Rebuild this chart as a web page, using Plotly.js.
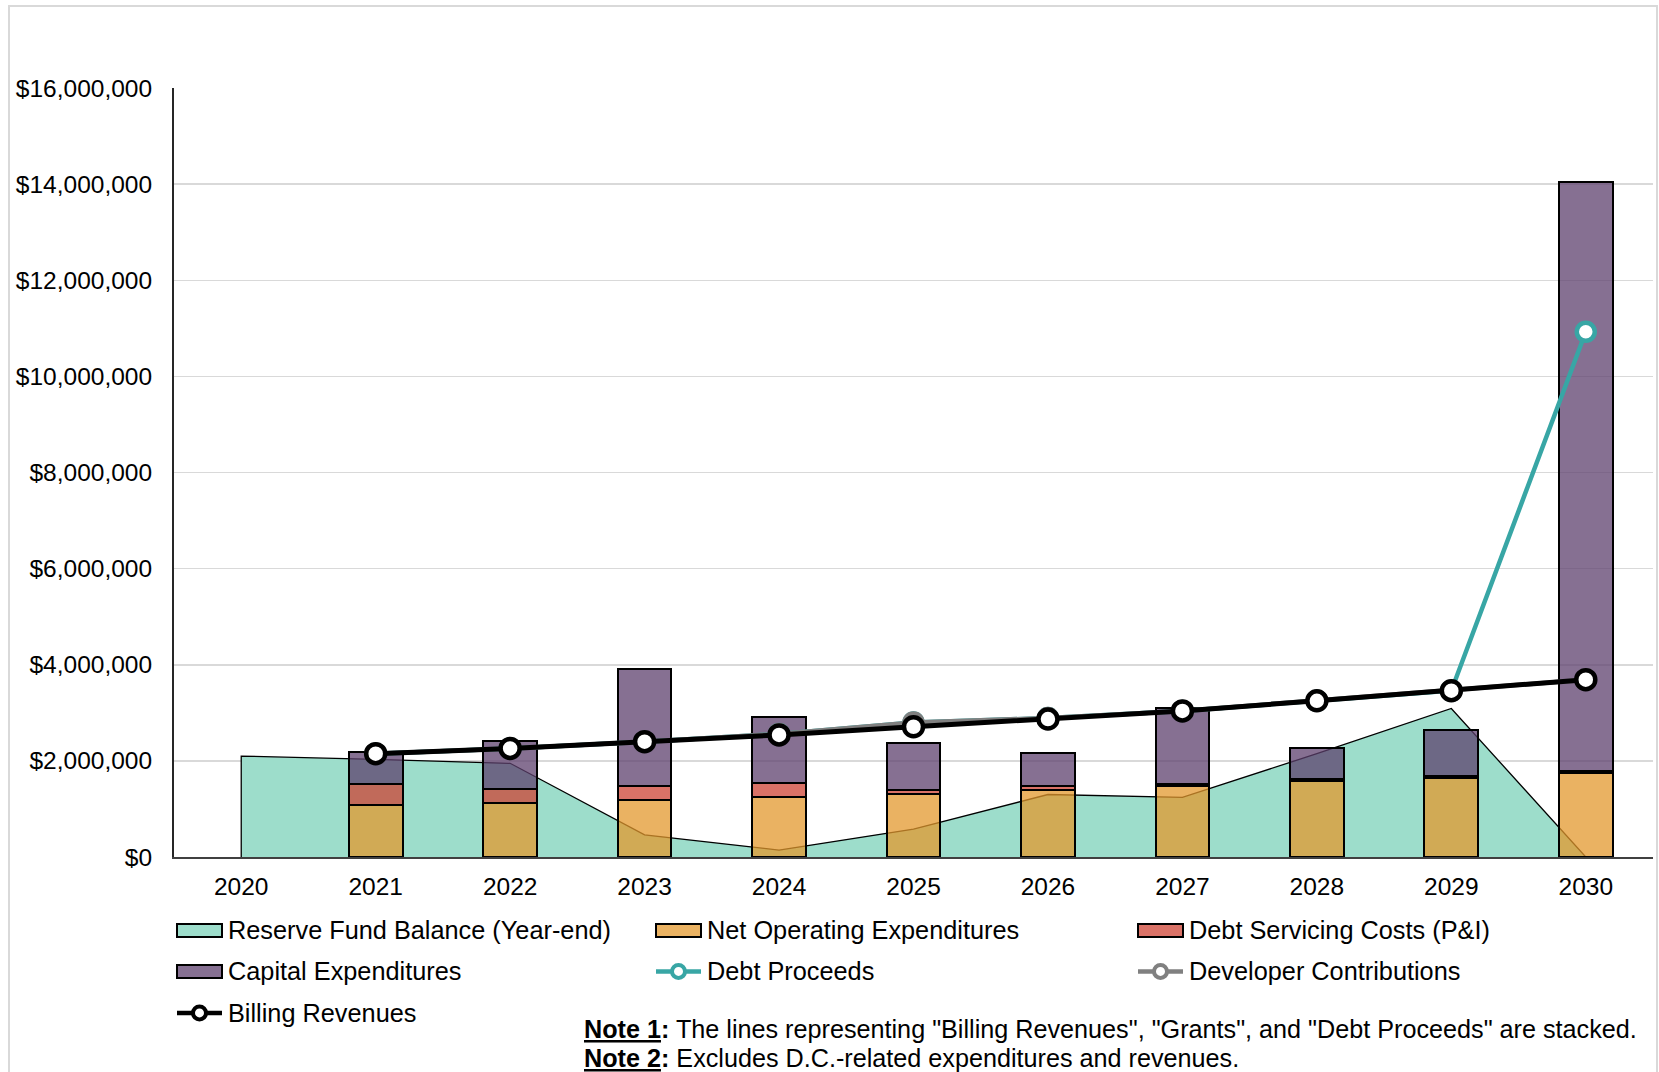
<!DOCTYPE html>
<html><head><meta charset="utf-8">
<script src="https://cdn.plot.ly/plotly-3.0.1.min.js"></script>
<style>
html,body{margin:0;padding:0;background:#fff;overflow:hidden}
#chart{width:1659px;height:1072px}
#frame{position:absolute;left:8px;top:5px;width:1650px;height:1090px;border:2px solid #d9d9d9;box-sizing:border-box;pointer-events:none}
</style></head><body>
<div id="chart"></div><div id="frame"></div>
<script>
// ---- data ----
const years = ['2020','2021','2022','2023','2024','2025','2026','2027','2028','2029','2030'];
const barYears = ['2021','2022','2023','2024','2025','2026','2027','2028','2029','2030'];
const reserveFund = [2100000, 2030000, 1950000, 460000, 145000, 580000, 1300000, 1240000, 2150000, 3090000, 0];
const netOperating = [1080000, 1120000, 1180000, 1250000, 1320000, 1400000, 1470000, 1580000, 1640000, 1740000];
const debtServicing = [430000, 300000, 300000, 280000, 70000, 70000, 40000, 40000, 50000, 40000];
const capitalExp = [680000, 1000000, 2430000, 1390000, 980000, 690000, 1600000, 640000, 950000, 12260000];
const billingRevenues = [2150000, 2260000, 2400000, 2540000, 2710000, 2870000, 3040000, 3250000, 3460000, 3690000];
const developerContrib = [0, 0, 0, 20000, 90000, 20000, 0, 0, 0, 0];
const debtProceeds = [0, 0, 0, 0, 0, 0, 0, 0, 0, 7240000];
const yTickVals = [0, 2000000, 4000000, 6000000, 8000000, 10000000, 12000000, 14000000, 16000000];
const yTickText = yTickVals.map(v => '$' + v.toLocaleString('en-US'));

// stacked lines (Billing -> + Developer -> + Debt)
const devLine = billingRevenues.map((v, i) => v + developerContrib[i]);
const debtLine = devLine.map((v, i) => v + debtProceeds[i]);

// closed outline for the reserve-fund area (baseline at both ends)
const areaX = [years[0]].concat(years, [years[years.length - 1]]);
const areaY = [0].concat(reserveFund, [0]);

const FONT = 'Liberation Sans, Arial, sans-serif';
const W = 1659, H = 1072, ML = 174, MR = 6, MT = 88, MB = 214.5;
const PW = W - ML - MR, PH = H - MT - MB;
const px2x = p => (p - ML) / PW;
const px2y = p => (H - MB - p) / PH;

const C_TEAL = 'rgb(157,221,203)';
const C_DEBT = 'rgb(56,166,165)';
const C_DEV = 'rgb(128,128,128)';

const traces = [
  {type:'scatter', x: areaX, y: areaY, name:'Reserve Fund Balance (Year-end)', mode:'lines',
   fill:'toself', fillcolor:C_TEAL, line:{color:'#000', width:1.3}, xaxis:'x', yaxis:'y'},
  {type:'bar', x: barYears, y: netOperating, name:'Net Operating Expenditures', width:0.4,
   marker:{color:'rgba(227,152,46,0.75)', line:{color:'#000', width:2}}, xaxis:'x', yaxis:'y2'},
  {type:'bar', x: barYears, y: debtServicing, name:'Debt Servicing Costs (P&I)', width:0.4,
   marker:{color:'rgba(206,67,52,0.75)', line:{color:'#000', width:2}}, xaxis:'x', yaxis:'y2'},
  {type:'bar', x: barYears, y: capitalExp, name:'Capital Expenditures', width:0.4,
   marker:{color:'rgba(94,64,110,0.75)', line:{color:'#000', width:2}}, xaxis:'x', yaxis:'y2'},
  {type:'scatter', x: barYears, y: debtLine, name:'Debt Proceeds', mode:'lines+markers',
   line:{color:C_DEBT, width:4.5},
   marker:{symbol:'circle', size:18, color:'#fff', line:{color:C_DEBT, width:4.5}}, xaxis:'x', yaxis:'y2'},
  {type:'scatter', x: barYears, y: devLine, name:'Developer Contributions', mode:'lines+markers',
   line:{color:C_DEV, width:4.5},
   marker:{symbol:'circle', size:18, color:'#fff', line:{color:C_DEV, width:4.5}}, xaxis:'x', yaxis:'y2'},
  {type:'scatter', x: barYears, y: billingRevenues, name:'Billing Revenues', mode:'lines+markers',
   line:{color:'#000', width:5},
   marker:{symbol:'circle', size:19, color:'#fff', line:{color:'#000', width:4.5}}, xaxis:'x', yaxis:'y2'}
];

// ---- legend (3 columns, Excel style swatches) ----
const legendItems = [
  {name: traces[0].name, kind:'rect', color: C_TEAL},
  {name: traces[1].name, kind:'rect', color: 'rgb(234,178,98)'},
  {name: traces[2].name, kind:'rect', color: 'rgb(218,114,103)'},
  {name: traces[3].name, kind:'rect', color: 'rgb(134,112,146)'},
  {name: traces[4].name, kind:'line', color: C_DEBT},
  {name: traces[5].name, kind:'line', color: C_DEV},
  {name: traces[6].name, kind:'line', color: '#000'}
];
const legCols = [177, 656, 1138];
const legRows = [931, 972, 1013.5];
const SW = 45;
const shapes = [];
const annotations = [];
legendItems.forEach((it, i) => {
  const left = legCols[i % 3], cy = legRows[Math.floor(i / 3)];
  if (it.kind === 'rect') {
    shapes.push({type:'rect', xref:'paper', yref:'paper', layer:'above',
      x0:px2x(left), x1:px2x(left + SW), y0:px2y(cy + 6.5), y1:px2y(cy - 6.5),
      fillcolor: it.color, line:{color:'#000', width:2}});
  } else {
    shapes.push({type:'line', xref:'paper', yref:'paper', layer:'above',
      x0:px2x(left), x1:px2x(left + SW), y0:px2y(cy), y1:px2y(cy),
      line:{color: it.color, width:4.5}});
    const cx = left + SW / 2;
    shapes.push({type:'circle', xref:'paper', yref:'paper', layer:'above',
      x0:px2x(cx - 6.5), x1:px2x(cx + 6.5), y0:px2y(cy + 6.5), y1:px2y(cy - 6.5),
      fillcolor:'#fff', line:{color: it.color, width:4}});
  }
  annotations.push({xref:'paper', yref:'paper', x:px2x(left + SW + 4), y:px2y(cy),
    xanchor:'left', yanchor:'middle', showarrow:false, text: it.name,
    font:{family:FONT, size:25.3, color:'#000'}});
});

annotations.push(
  {xref:'paper', yref:'paper', x: px2x(582), y: px2y(1030), xanchor:'left', yanchor:'middle', showarrow:false,
   text:'<b><u>Note 1</u>:</b> The lines representing "Billing Revenues", "Grants", and "Debt Proceeds" are stacked.',
   font:{family:FONT, size:25.2, color:'#000'}},
  {xref:'paper', yref:'paper', x: px2x(582), y: px2y(1059), xanchor:'left', yanchor:'middle', showarrow:false,
   text:'<b><u>Note 2</u>:</b> Excludes D.C.-related expenditures and revenues.',
   font:{family:FONT, size:25.2, color:'#000'}}
);

const layout = {
  width:W, height:H,
  margin:{l:ML, r:MR, t:MT, b:MB, pad:0},
  paper_bgcolor:'#fff', plot_bgcolor:'#fff',
  barmode:'stack',
  showlegend:false,
  hovermode:false,
  font:{family:FONT, color:'#000'},
  xaxis:{type:'category', categoryorder:'array', categoryarray: years, range:[-0.5, 10.5],
    showline:true, linecolor:'#404040', linewidth:2, showgrid:false, zeroline:false,
    ticks:'', tickfont:{family:FONT, size:24.5, color:'#000'}, ticklabelstandoff:7},
  yaxis:{range:[0, 16000000], tickmode:'array', tickvals: yTickVals, ticktext: yTickText,
    showline:true, linecolor:'#262626', linewidth:2, showgrid:true, gridcolor:'#d9d9d9', gridwidth:1.5,
    zeroline:false, ticks:'', tickfont:{family:FONT, size:24.5, color:'#000'}, ticklabelstandoff:15},
  yaxis2:{range:[0, 16000000], overlaying:'y', visible:false},
  shapes: shapes,
  annotations: annotations
};

Plotly.newPlot('chart', traces, layout, {staticPlot:true, displayModeBar:false});
</script>
</body></html>
